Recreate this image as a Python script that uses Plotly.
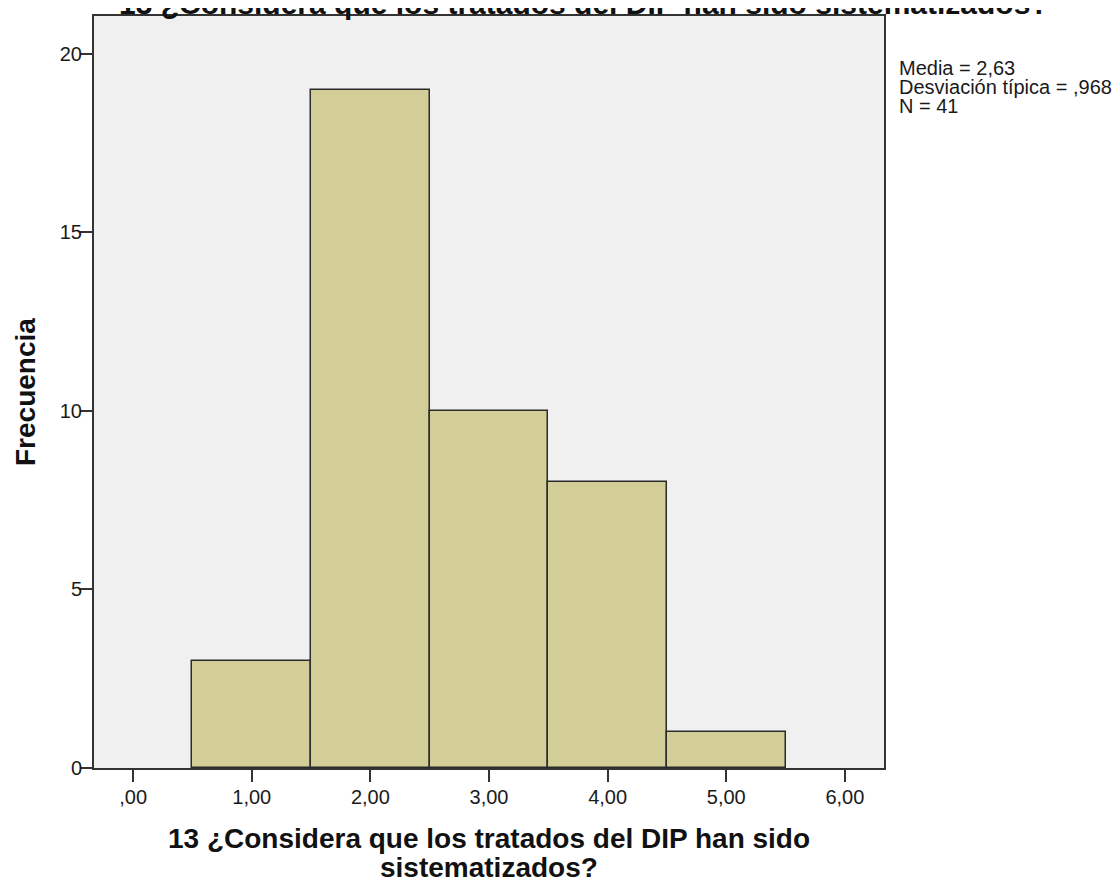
import plotly.graph_objects as go

# Data
bin_centers = [1, 2, 3, 4, 5]
frequencies = [3, 19, 10, 8, 1]
x_tickvals = [0, 1, 2, 3, 4, 5, 6]
x_ticktext = [",00", "1,00", "2,00", "3,00", "4,00", "5,00", "6,00"]
y_tickvals = [0, 5, 10, 15, 20]
title_text = "13 ¿Considera que los tratados del DIP han sido sistematizados?"
x_title_lines = ["13 ¿Considera que los tratados del DIP han sido", "sistematizados?"]
y_title = "Frecuencia"
stats_lines = ["Media = 2,63", "Desviación típica = ,968", "N = 41"]

FONT = "Liberation Sans, Arial, sans-serif"
TXT = "#1a1a1a"

fig = go.Figure()
fig.add_trace(go.Bar(
    x=bin_centers, y=frequencies, width=1,
    marker=dict(color="#d3ce97", line=dict(color="#2b2b2b", width=1.5)),
    showlegend=False,
))

fig.update_layout(
    width=1120, height=882,
    margin=dict(l=86, r=244, t=6, b=122),
    paper_bgcolor="white", plot_bgcolor="#f0f0f0",
    font=dict(family=FONT, size=20, color=TXT),
    bargap=0,
)
fig.update_xaxes(
    range=[-0.33, 6.33], tickvals=x_tickvals, ticktext=x_ticktext,
    ticks="outside", ticklen=12, tickwidth=1.5, tickcolor="#333333",
    showgrid=False, zeroline=False,
    showline=True, linecolor="#333333", linewidth=2, mirror=True,
    tickfont=dict(size=20, color=TXT), ticklabelstandoff=-2,
)
fig.update_yaxes(
    range=[0, 21.06], tickvals=y_tickvals,
    ticks="outside", ticklen=12, tickwidth=1.5, tickcolor="#333333",
    showgrid=False, zeroline=False,
    showline=True, linecolor="#333333", linewidth=2, mirror=True,
    tickfont=dict(size=20, color=TXT), ticklabelstandoff=-6,
)
bold = dict(size=28, family=FONT, color="#111111", weight="bold")
# cut-off title at top
fig.add_annotation(
    text=title_text, xref="paper", yref="paper", x=0.62, y=1.0, yshift=13,
    xanchor="center", yanchor="middle", showarrow=False,
    font=dict(size=30, family=FONT, color="#111111", weight="bold"),
)
# x-axis title (two lines, tight spacing)
for i, line in enumerate(x_title_lines):
    fig.add_annotation(
        text=line, xref="paper", yref="paper", x=0.5, y=0.0, yshift=-70 - 29 * i,
        xanchor="center", yanchor="middle", showarrow=False, font=bold,
    )
# y-axis title
fig.add_annotation(
    text=y_title, xref="paper", yref="paper", x=0.0, y=0.5, xshift=-69,
    xanchor="center", yanchor="middle", textangle=-90, showarrow=False, font=bold,
)
# statistics box
for i, line in enumerate(stats_lines):
    fig.add_annotation(
        text=line, xref="paper", yref="paper", x=1.0, y=1.0, xshift=13, yshift=-52 - 19 * i,
        xanchor="left", yanchor="middle", align="left", showarrow=False,
        font=dict(size=20, family=FONT, color=TXT),
    )
fig.write_html("out.html")
